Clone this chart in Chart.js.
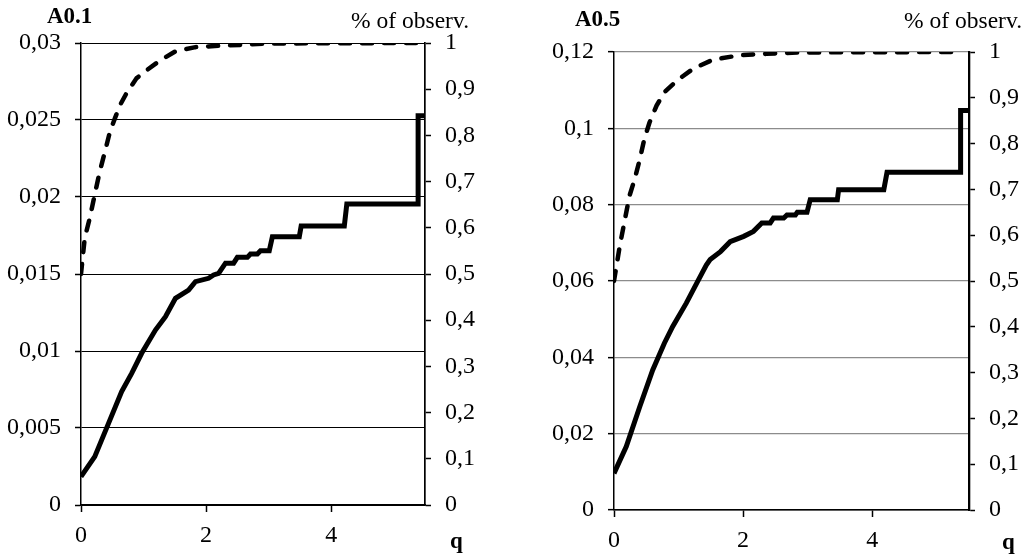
<!DOCTYPE html>
<html><head><meta charset="utf-8">
<script src="https://cdn.jsdelivr.net/npm/chart.js@4/dist/chart.umd.min.js"></script>
<style>
html,body{margin:0;padding:0;background:#fff;width:1030px;height:558px;overflow:hidden}
canvas{position:absolute;top:0}
#c1{left:0}
#c2{left:515px}
</style></head><body>
<canvas id="c1" width="515" height="558"></canvas>
<canvas id="c2" width="515" height="558"></canvas>
<script>
// ---- tick labels ----
const xTicks = [0, 2, 4];
const a01LeftTicks = [0, 0.005, 0.01, 0.015, 0.02, 0.025, 0.03];
const a05LeftTicks = [0, 0.02, 0.04, 0.06, 0.08, 0.1, 0.12];
const shareTicks = [0, 0.1, 0.2, 0.3, 0.4, 0.5, 0.6, 0.7, 0.8, 0.9, 1];

// ---- A0.1 : solid series (left axis) ----
const a01Q   = [0, 0.22, 0.44, 0.65, 0.81, 0.97, 1.19, 1.35, 1.51, 1.72, 1.83, 2.04, 2.12, 2.20, 2.31, 2.44, 2.50, 2.66, 2.71, 2.82, 2.87, 3.01, 3.06, 3.49, 3.52, 4.21, 4.25, 5.39, 5.39, 5.5];
const a01Val = [0.00184, 0.00314, 0.0053, 0.00736, 0.00855, 0.00985, 0.01136, 0.01223, 0.01342, 0.01396, 0.0145, 0.01472, 0.01494, 0.01504, 0.0157, 0.0157, 0.01608, 0.01608, 0.0163, 0.0163, 0.01651, 0.01651, 0.01742, 0.01742, 0.01812, 0.01812, 0.01954, 0.01954, 0.02528, 0.02528];
// ---- A0.1 : dashed series (% of observ., right axis) ----
const a01ShareQ = [0, 0.06, 0.14, 0.22, 0.30, 0.385, 0.465, 0.545, 0.626, 0.73, 0.89, 1.03, 1.24, 1.51, 1.83, 2.20, 2.58, 3.0, 5.36];
const a01Share  = [0.50, 0.578, 0.621, 0.672, 0.722, 0.766, 0.809, 0.838, 0.866, 0.892, 0.924, 0.939, 0.960, 0.982, 0.991, 0.994, 0.996, 0.999, 1.0];

// ---- A0.5 : solid series (left axis) ----
const a05Q   = [0, 0.19, 0.40, 0.60, 0.78, 0.91, 1.12, 1.28, 1.43, 1.49, 1.65, 1.80, 2.01, 2.16, 2.29, 2.42, 2.47, 2.63, 2.68, 2.81, 2.84, 2.99, 3.04, 3.46, 3.48, 4.18, 4.23, 5.37, 5.37, 5.5];
const a05Val = [0.0096, 0.0166, 0.0271, 0.0367, 0.0437, 0.0481, 0.0542, 0.0594, 0.0642, 0.0656, 0.0677, 0.0703, 0.0717, 0.073, 0.0752, 0.0752, 0.0765, 0.0765, 0.0773, 0.0773, 0.078, 0.078, 0.0813, 0.0813, 0.0839, 0.0839, 0.0885, 0.0885, 0.1047, 0.1047];
// ---- A0.5 : dashed series (% of observ., right axis) ----
const a05ShareQ = [0, 0.09, 0.16, 0.24, 0.32, 0.40, 0.47, 0.55, 0.66, 0.78, 0.97, 1.22, 1.53, 1.95, 2.36, 2.9, 5.3];
const a05Share  = [0.5, 0.577, 0.628, 0.686, 0.722, 0.766, 0.81, 0.846, 0.883, 0.912, 0.937, 0.963, 0.983, 0.993, 0.996, 0.999, 1.0];

const FAMILY = "'Liberation Serif','Times New Roman',serif";
function fmt(v){ return String(+Number(v).toFixed(4)).replace('.', ','); }
function pts(xs, ys){ return xs.map((x, i) => ({x: x, y: ys[i]})); }
function setTicks(arr){ return s => { s.ticks = arr.map(v => ({value: v})); }; }

const labelsPlugin = {
  id: 'labels',
  afterDraw(chart, args, opts){
    const ctx = chart.ctx;
    ctx.save();
    ctx.fillStyle = '#000';
    ctx.textBaseline = 'alphabetic';
    (opts.items || []).forEach(it => {
      ctx.font = it.font;
      ctx.textAlign = it.align || 'left';
      ctx.fillText(it.text, it.x, it.y);
    });
    ctx.restore();
  }
};

function build(id, p){
  const font = {family: FAMILY, size: 24};
  return new Chart(document.getElementById(id), {
    type: 'scatter',
    data: {datasets: [
      {data: pts(p.q, p.val), yAxisID: 'y', showLine: true, borderColor: '#000', backgroundColor: '#000',
       borderWidth: 5, pointRadius: 0, tension: 0, borderJoinStyle: 'miter', fill: false},
      {data: pts(p.sq, p.share), yAxisID: 'y1', showLine: true, borderColor: '#000', backgroundColor: '#000',
       borderWidth: 4.5, borderDash: [10, 12], borderCapStyle: 'round', pointRadius: 0, tension: 0, fill: false}
    ]},
    plugins: [labelsPlugin],
    options: {
      responsive: false, animation: false, events: [],
      layout: {padding: {top: p.top, left: 0, right: 0, bottom: 0}},
      plugins: {
        legend: {display: false}, tooltip: {enabled: false},
        labels: {items: p.items}
      },
      scales: {
        x: {type: 'linear', min: 0, max: 5.5, afterBuildTicks: setTicks(xTicks),
            afterFit: s => { s.height = p.xh; },
            grid: {drawOnChartArea: false, drawTicks: true, tickLength: 7, tickColor: '#000', tickWidth: 1.5},
            border: {color: '#000', width: 1.5},
            ticks: {color: '#000', font: font, padding: 9, maxRotation: 0, autoSkip: false, callback: v => fmt(v)}},
        y: {position: 'left', min: 0, max: p.ymax, afterBuildTicks: setTicks(p.leftTicks),
            afterFit: s => { s.width = p.lw; },
            grid: {color: p.gridColor, lineWidth: p.gridWidth, tickLength: 6, tickColor: '#000', tickWidth: 1.5},
            border: {color: '#000', width: 1.5},
            ticks: {color: '#000', font: font, padding: 14, autoSkip: false, callback: v => fmt(v)}},
        y1: {position: 'right', min: 0, max: 1, afterBuildTicks: setTicks(shareTicks),
            afterFit: s => { s.width = p.rw; },
            grid: {drawOnChartArea: false, tickLength: 6, tickColor: '#000', tickWidth: 1.5},
            border: {color: '#000', width: p.rBorder},
            ticks: {color: '#000', font: font, padding: 14, autoSkip: false, callback: v => fmt(v)}}
      }
    }
  });
}

build('c1', {
  q: a01Q, val: a01Val, sq: a01ShareQ, share: a01Share,
  ymax: 0.03, leftTicks: a01LeftTicks, top: 43, xh: 53, lw: 81, rw: 90, rBorder: 1.7,
  gridColor: '#000', gridWidth: 1,
  items: [
    {text: 'A0.1', x: 47, y: 23, font: "bold 23px " + FAMILY},
    {text: '% of observ.', x: 469, y: 28, align: 'right', font: "23.5px " + FAMILY},
    {text: 'q', x: 450, y: 548, font: "bold 23px " + FAMILY}
  ]
});
build('c2', {
  q: a05Q, val: a05Val, sq: a05ShareQ, share: a05Share,
  ymax: 0.12, leftTicks: a05LeftTicks, top: 52, xh: 48, lw: 99, rw: 61, rBorder: 2.3,
  gridColor: ctx => (ctx.tick && ctx.tick.value === 0) ? '#000' : '#8c8c8c', gridWidth: 1.3,
  items: [
    {text: 'A0.5', x: 60, y: 26, font: "bold 23px " + FAMILY},
    {text: '% of observ.', x: 507, y: 28, align: 'right', font: "23.5px " + FAMILY},
    {text: 'q', x: 487, y: 549, font: "bold 23px " + FAMILY}
  ]
});
</script>
</body></html>
